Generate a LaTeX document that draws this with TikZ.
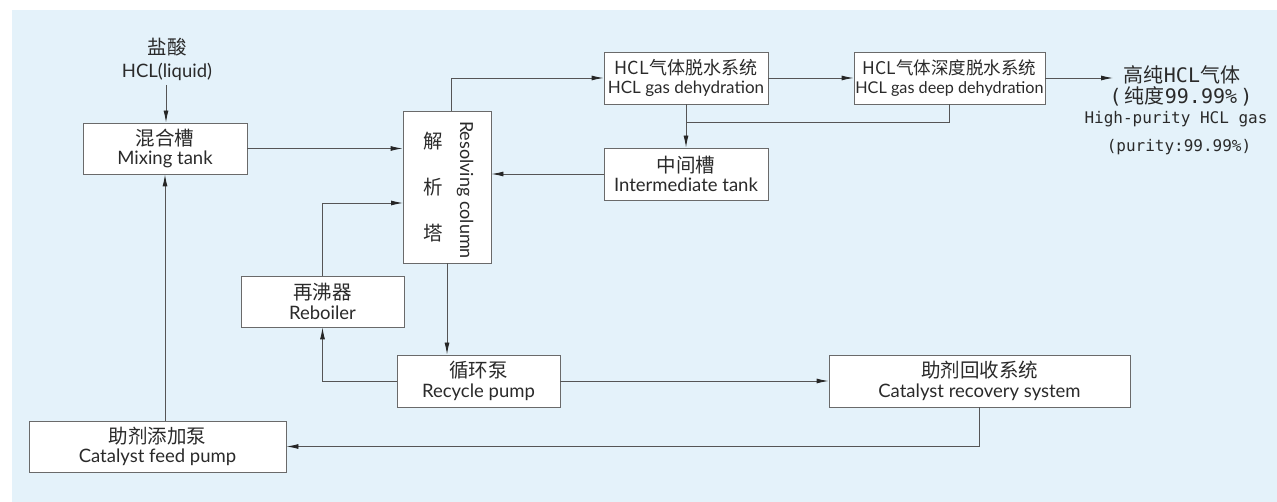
\documentclass[tikz,border=0pt]{standalone}
\usepackage{fontspec}
\setmainfont{Lato}
\newfontfamily\cjk{Noto Sans CJK SC}
\newfontfamily\monof{DejaVu Sans Mono}
\usetikzlibrary{arrows.meta}
\definecolor{bgblue}{HTML}{E4F2FA}
\definecolor{linegray}{HTML}{555555}
\definecolor{boxgray}{HTML}{6A6A6A}
\definecolor{txt}{HTML}{2A2A2A}
\newcommand{\zh}[1]{{\fontsize{19.5}{19}\selectfont\cjk #1}}
\begin{document}
\begin{tikzpicture}[x=1pt,y=-1pt,
  box/.style={draw=boxgray, line width=0.9pt, fill=white, minimum width=#1,
    minimum height=51, align=center, inner sep=0pt, text=txt,
    font=\fontsize{18.5}{19.5}\selectfont},
  plain/.style={draw=linegray, line width=0.9pt},
  flow/.style={plain, -{Latex[length=12pt,width=5pt,color=black!85]}},
  lbl/.style={text=txt, inner sep=0pt, align=center}
]
\useasboundingbox (0,0) rectangle (1277,502);
\fill[bgblue] (12,10) rectangle (1277,502);

% boxes
\node[box=164] (mix) at (165,148.5) {\zh{混合槽}\\Mixing tank};
\node[box=88, minimum height=152] (col) at (447,187) {};
\node[lbl, font=\fontsize{19.5}{46}\selectfont\cjk] (colzh) at (433,187) {解\\析\\塔};
\node[lbl, rotate=-90, font=\fontsize{18}{18}\selectfont] (colen) at (465,190) {Resolving column};
\node[box=164, minimum height=52] (dehy) at (686,78) {{\fontsize{18}{19}\selectfont\cjk HCL气体脱水系统}\\{\fontsize{17}{19}\selectfont HCL gas dehydration}};
\node[box=164, minimum height=52] (inter) at (686,174) {\zh{中间槽}\\Intermediate tank};
\node[box=191, minimum height=52] (deep) at (949.5,78) {{\fontsize{17.5}{19}\selectfont\cjk HCL气体深度脱水系统}\\{\fontsize{16.2}{19}\selectfont HCL gas deep dehydration}};
\node[box=163] (reb) at (322.5,301.5) {\zh{再沸器}\\Reboiler};
\node[box=163, minimum height=52] (pump) at (478.5,381) {\zh{循环泵}\\Recycle pump};
\node[box=301, minimum height=52] (rec) at (979.5,381) {\zh{助剂回收系统}\\Catalyst recovery system};
\node[box=257] (feed) at (157.5,446.5) {\zh{助剂添加泵}\\Catalyst feed pump};

% input label
\node[lbl, font=\fontsize{18.5}{23}\selectfont] (hcl) at (167,59) {\zh{盐酸}\\HCL(liquid)};

% output labels
\node[lbl, font=\fontsize{20}{20}\selectfont] (out1) at (1182,75) {{\cjk 高纯}{\monof HCL}{\cjk 气体}};
\node[lbl, font=\fontsize{20}{20}\selectfont] (out2) at (1181,96) {{\monof (}\,{\cjk 纯度}{\monof 99.99\%}\,{\monof )}};
\node[lbl, font=\fontsize{16}{18}\selectfont\monof] (out3) at (1176,119) {High-purity HCL gas};
\node[lbl, font=\fontsize{16}{18}\selectfont\monof] (out4) at (1179,147) {(purity:99.99\%)};

\coordinate (hclstart) at (166,85);
\coordinate (r1) at (403,203);
\coordinate (j1) at (686,122);
\coordinate (outtip) at (1113,78);

% connectors
\draw[flow] (hclstart) -- (hclstart |- mix.north);
\draw[flow] (mix.east) -- (mix.east -| col.west);
\draw[flow] (reb.north) |- (r1);
\draw[flow] ([xshift=4pt]col.north) |- (dehy.west);
\draw[flow] (dehy.east) -- (deep.west);
\draw[flow] (deep.east) -- (outtip);
\draw[plain] (deep.south) |- (j1);
\draw[flow] (dehy.south) -- (inter.north);
\draw[flow] (inter.west) -- (inter.west -| col.east);
\draw[flow] (col.south) -- (col.south |- pump.north);
\draw[flow] (pump.west) -| (reb.south);
\draw[flow] (pump.east) -- (rec.west);
\draw[flow] (rec.south) |- (feed.east);
\draw[flow] (mix.south |- feed.north) -- (mix.south);
\end{tikzpicture}
\end{document}
